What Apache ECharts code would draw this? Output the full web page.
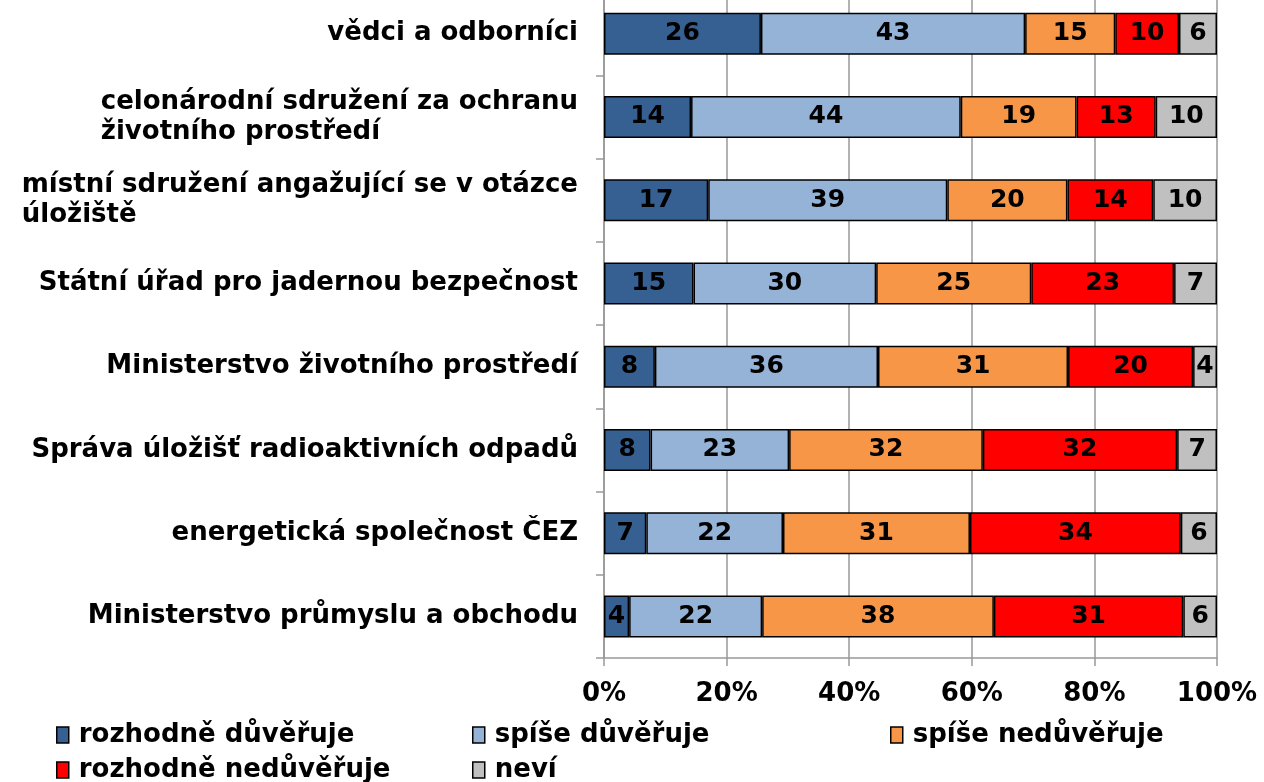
<!DOCTYPE html>
<html><head><meta charset="utf-8">
<script src="https://cdn.jsdelivr.net/npm/echarts@6/dist/echarts.min.js"></script>
<style>html,body{margin:0;padding:0;background:#fff;overflow:hidden}#c{position:absolute;left:0;top:-8px;width:1264px;height:790px}</style>
</head><body><div id="c"></div>
<script>
const categories = [
  "vědci a odborníci",
  "celonárodní sdružení za ochranu\nživotního prostředí",
  "místní sdružení angažující se v otázce\núložiště",
  "Státní úřad pro jadernou bezpečnost",
  "Ministerstvo životního prostředí",
  "Správa úložišť radioaktivních odpadů",
  "energetická společnost ČEZ",
  "Ministerstvo průmyslu a obchodu"
];
const seriesNames = ["rozhodně důvěřuje", "spíše důvěřuje", "spíše nedůvěřuje", "rozhodně nedůvěřuje", "neví"];
const rozhodneDuveruje   = [25.6, 14.2, 17.0, 14.6, 8.3, 7.6, 6.9, 4.1];
const spiseDuveruje      = [43.1, 44.0, 39.0, 29.8, 36.4, 22.6, 22.3, 21.7];
const spiseNeduveruje    = [14.7, 18.9, 19.6, 25.3, 31.0, 31.6, 30.5, 37.8];
const rozhodneNeduveruje = [10.4, 12.9, 14.0, 23.3, 20.4, 31.7, 34.4, 30.9];
const nevi               = [6.2, 10.0, 10.4, 7.0, 3.9, 6.5, 5.9, 5.5];
const colors = ["#376092", "#95B3D7", "#F79646", "#FF0000", "#C0C0C0"];
const xTicks = [0, 20, 40, 60, 80, 100];

const FONT = "DejaVu Sans";
const data = [rozhodneDuveruje, spiseDuveruje, spiseNeduveruje, rozhodneNeduveruje, nevi];

const chart = echarts.init(document.getElementById('c'));
const series = data.map((d, i) => ({
  name: seriesNames[i],
  type: 'bar',
  stack: 'total',
  barWidth: 42,
  data: d,
  itemStyle: { color: colors[i], borderColor: '#000', borderWidth: 1.5 },
  label: {
    show: true, position: 'inside', color: '#000',
    fontFamily: FONT, fontWeight: 'bold', fontSize: 25,
    formatter: p => Math.round(p.value)
  }
}));
const legendPos = [[56, 728], [472, 728], [890, 728], [56, 763], [472, 763]];
const legends = seriesNames.map((n, i) => ({
  data: [n], left: legendPos[i][0], top: legendPos[i][1], padding: 0,
  icon: 'rect', itemWidth: 12, itemHeight: 16, itemGap: 0,
  itemStyle: { borderColor: '#000', borderWidth: 1.5 },
  textStyle: { fontFamily: FONT, fontWeight: 'bold', fontSize: 26, lineHeight: 30, color: '#000', padding: [0,0,0,5] }
}));
chart.setOption({
  animation: false,
  color: colors,
  grid: { left: 604, right: 47, top: 0, bottom: 124, containLabel: false },
  legend: legends,
  xAxis: {
    type: 'value', min: 0, max: 100, interval: 20,
    axisLine: { show: true, lineStyle: { color: '#999', width: 1.5 } },
    axisTick: { show: true, length: 8, lineStyle: { color: '#999', width: 1.5 } },
    splitLine: { show: true, lineStyle: { color: '#999', width: 1.5 } },
    axisLabel: {
      color: '#000', fontFamily: FONT, fontWeight: 'bold', fontSize: 26, margin: 23,
      formatter: v => xTicks.includes(v) ? v + '%' : ''
    }
  },
  yAxis: {
    type: 'category', inverse: true, data: categories,
    axisLine: { show: true, lineStyle: { color: '#999', width: 1.5 } },
    axisTick: { show: true, length: 8, lineStyle: { color: '#999', width: 1.5 } },
    axisLabel: {
      color: '#000', fontFamily: FONT, fontWeight: 'bold', fontSize: 26, margin: 26,
      lineHeight: 30,
      formatter: v => v.split('\n').map(s => '{l|' + s + '}').join('\n'),
      rich: { l: { align: 'left', fontFamily: FONT, fontWeight: 'bold', fontSize: 26, lineHeight: 30, color: '#000' } }
    }
  },
  series: series
});
</script></body></html>
